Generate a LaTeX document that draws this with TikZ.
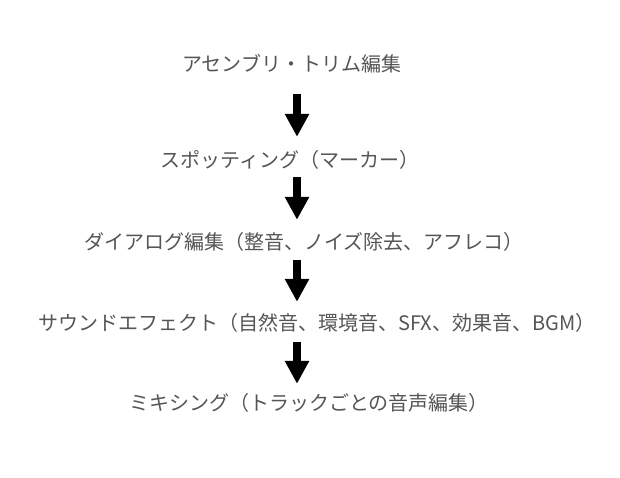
\documentclass[tikz,border=0pt]{standalone}
\usepackage{fontspec}
\setmainfont{Noto Sans CJK JP}
\usetikzlibrary{arrows.meta}
\definecolor{txt}{HTML}{555555}
\begin{document}
\begin{tikzpicture}[x=1pt,y=-1pt,
  lbl/.style={font=\fontsize{20}{24}\selectfont, text=txt, inner sep=0pt, text height=17.6pt, text depth=2.4pt},
  bigarrow/.style={draw=black, line width=8pt, -{Triangle[width=23pt,length=23pt]}}]
\useasboundingbox (0,0) rectangle (620,477);
\coordinate (ax) at (297,0);
\node[lbl] (n1) at (291.5,63.5) {アセンブリ・トリム編集};
\node[lbl] (n2) at (290,160) {スポッティング（マーカー）};
\node[lbl] (n3) at (304,242) {ダイアログ編集（整音、ノイズ除去、アフレコ）};
\node[lbl] (n4) at (317,323) {サウンドエフェクト（自然音、環境音、SFX、効果音、BGM）};
\node[lbl] (n5) at (309,403) {ミキシング（トラックごとの音声編集）};
\draw[bigarrow, shorten <=20.5pt, shorten >=13pt] (n1.south -| ax) -- (n2.north -| ax);
\draw[bigarrow, shorten <=7pt, shorten >=12pt] (n2.south -| ax) -- (n3.north -| ax);
\draw[bigarrow, shorten <=8pt, shorten >=11pt] (n3.south -| ax) -- (n4.north -| ax);
\draw[bigarrow, shorten <=9pt, shorten >=9pt] (n4.south -| ax) -- (n5.north -| ax);
\end{tikzpicture}
\end{document}
